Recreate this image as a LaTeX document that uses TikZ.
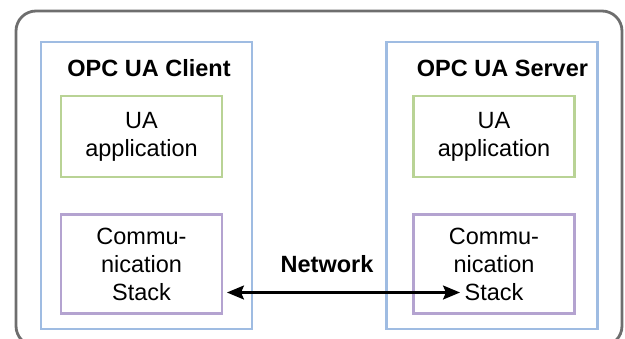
\documentclass[tikz,border=0pt]{standalone}
\usepackage{fontspec}
\setmainfont{Liberation Sans}
\usetikzlibrary{arrows.meta}
\definecolor{framegray}{HTML}{6E6E6E}
\definecolor{appblue}{HTML}{9FBCE2}
\definecolor{layergreen}{HTML}{B9D395}
\definecolor{layerpurple}{HTML}{B4A3D0}
\tikzset{
  bodytext/.style={font=\fontsize{23.5}{28}\selectfont, align=center},
  titletext/.style={font=\fontsize{23.5}{28}\selectfont\bfseries},
  appbox/.style={draw=appblue, line width=2.3pt, inner sep=0pt,
    minimum width=211pt, minimum height=287pt},
  uabox/.style={draw=layergreen, line width=2.3pt, inner sep=0pt, bodytext,
    minimum width=161pt, minimum height=81pt},
  stackbox/.style={draw=layerpurple, line width=2.3pt, inner sep=0pt, bodytext,
    minimum width=161pt, minimum height=99pt},
  nettip/.tip={Stealth[length=17pt,width=14pt,inset=3pt]},
  netarrow/.style={line width=2.2pt, nettip-nettip},
}
\begin{document}
\begin{tikzpicture}[x=1pt, y=-1pt]
  \useasboundingbox (0,0) rectangle (625,338);
  % outer frame, running past the lower edge
  \begin{scope}
    \clip (0,0) rectangle (625,338);
    \draw[framegray, line width=2.8pt, rounded corners=20pt] (16,11) rectangle (622,346);
  \end{scope}

  % client side
  \node[appbox] (client) at (146.5,185.5) {};
  \node[titletext] (clientTitle) at (149,68) {OPC UA Client};
  \node[uabox] (clientApp) at (141.5,136.5) {UA\\application};
  \node[stackbox] (clientStack) at (141.5,264) {Commu-\\nication\\Stack};

  % server side
  \node[appbox] (server) at (492,185.5) {};
  \node[titletext] (serverTitle) at (502.5,68) {OPC UA Server};
  \node[uabox] (serverApp) at (494,136.5) {UA\\application};
  \node[stackbox] (serverStack) at (494,264) {Commu-\\nication\\Stack};

  % network link
  \node[titletext] (network) at (327,264) {Network};
  \coordinate (netL) at (227,292.5);
  \coordinate (netR) at (460,292.5);
  \draw[netarrow] (netL) -- (netR);
\end{tikzpicture}
\end{document}
